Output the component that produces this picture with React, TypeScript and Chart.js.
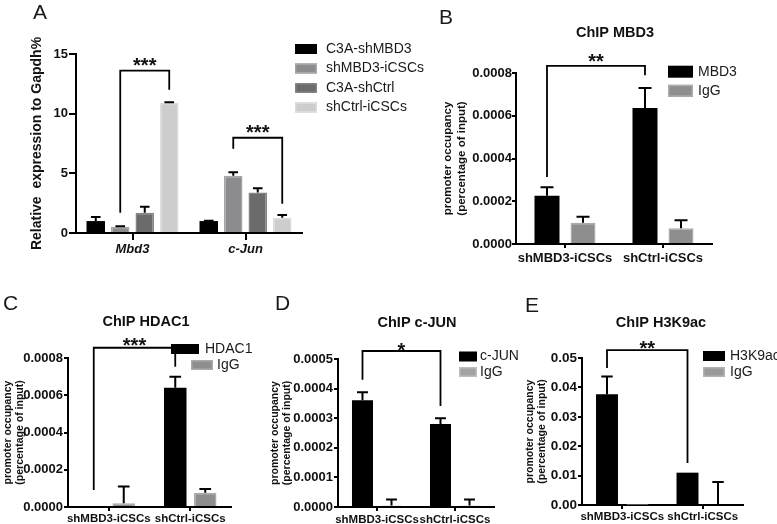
import { useEffect, useRef } from 'react';
import { Chart, registerables } from 'chart.js';

Chart.register(...registerables);

const FONT = '"Liberation Sans", Arial, Helvetica, sans-serif';
Chart.defaults.font.family = FONT;
Chart.defaults.color = '#111';

// ---------- Panel A data ----------
const aCategories = ['Mbd3', 'c-Jun'];
const aSeriesLabels = ['C3A-shMBD3', 'shMBD3-iCSCs', 'C3A-shCtrl', 'shCtrl-iCSCs'];
const aC3AshMBD3 = [1.0, 1.0];
const aC3AshMBD3Err = [0.34, 0.02];
const aShMBD3iCSCs = [0.53, 4.8];
const aShMBD3iCSCsErr = [0.04, 0.29];
const aC3AshCtrl = [1.7, 3.4];
const aC3AshCtrlErr = [0.5, 0.35];
const aShCtrliCSCs = [10.92, 1.28];
const aShCtrliCSCsErr = [0.03, 0.22];
const aYTicks = [0, 5, 10, 15];
const aBrackets = [
  { from: [0, 1], to: [0, 3], yFrom: 1.7, yTop: 13.6, yTo: 12.0, label: '***', labelY: 14.45 },
  { from: [1, 1], to: [1, 3], yFrom: 7.05, yTop: 7.98, yTo: 2.45, label: '***', labelY: 8.8 },
];

// ---------- ChIP panels ----------
const chipCategories = ['shMBD3-iCSCs', 'shCtrl-iCSCs'];

const bLabels = ['MBD3', 'IgG'];
const bMBD3 = [0.000226, 0.000636];
const bMBD3Err = [0.000039, 0.000094];
const bIgG = [0.0001, 0.0000735];
const bIgGErr = [0.000028, 0.000038];
const bYTicks = [0, 0.0002, 0.0004, 0.0006, 0.0008];
const bBrackets = [
  { from: [0, 0], to: [1, 0], yFrom: 0.000313, yTop: 0.000833, yTo: 0.00079, label: '**', labelY: 0.000875 },
];

const cLabels = ['HDAC1', 'IgG'];
const cHDAC1 = [0.000005, 0.00064];
const cHDAC1Err = [0, 0.00006];
const cIgG = [0.00002, 0.000077];
const cIgGErr = [0.00009, 0.00002];
const cYTicks = [0, 0.0002, 0.0004, 0.0006, 0.0008];
const cBrackets = [
  { from: [0, 0], to: [1, 0], yFrom: 0.000091, yTop: 0.000855, yTo: 0.000753, label: '***', labelY: 0.00089 },
];

const dLabels = ['c-JUN', 'IgG'];
const dCJUN = [0.000361, 0.00028];
const dCJUNErr = [0.000027, 0.00002];
const dIgG = [0.000005, 0.000005];
const dIgGErr = [0.00002, 0.00002];
const dYTicks = [0, 0.0001, 0.0002, 0.0003, 0.0004, 0.0005];
const dBrackets = [
  { from: [0, 0], to: [1, 0], yFrom: 0.00043, yTop: 0.000527, yTo: 0.000341, label: '*', labelY: 0.000545 },
];

const eLabels = ['H3K9ac', 'IgG'];
const eH3K9ac = [0.0377, 0.011];
const eH3K9acErr = [0.006, 0];
const eIgG = [0.0001, 0];
const eIgGErr = [0, 0.0078];
const eYTicks = [0, 0.01, 0.02, 0.03, 0.04, 0.05];
const eBrackets = [
  { from: [0, 0], to: [1, 0], yFrom: 0.0466, yTop: 0.0527, yTo: 0.0143, label: '**', labelY: 0.0548 },
];

const W = 777;
const H = 524;
const X_AXIS_H = 30;

// ---------- plugins ----------
const errorBarPlugin = {
  id: 'errorBars',
  afterDatasetsDraw(chart: any, _args: any, opts: any) {
    const ctx = chart.ctx;
    const yScale = chart.scales.y;
    ctx.save();
    ctx.strokeStyle = '#000';
    ctx.lineWidth = opts.lineWidth || 2;
    chart.data.datasets.forEach((ds: any, di: number) => {
      const meta = chart.getDatasetMeta(di);
      const errs = ds.errors || [];
      meta.data.forEach((bar: any, i: number) => {
        const e = errs[i];
        if (!e) return;
        const v = ds.data[i];
        const yTop = yScale.getPixelForValue(v + e);
        const yBase = yScale.getPixelForValue(v);
        const half = bar.width * 0.26;
        ctx.beginPath();
        ctx.moveTo(bar.x, yBase);
        ctx.lineTo(bar.x, yTop);
        ctx.moveTo(bar.x - half, yTop);
        ctx.lineTo(bar.x + half, yTop);
        ctx.stroke();
      });
    });
    ctx.restore();
  },
};

const bracketPlugin = {
  id: 'sigBrackets',
  afterDatasetsDraw(chart: any, _args: any, opts: any) {
    const ctx = chart.ctx;
    const y = chart.scales.y;
    const size = opts.starSize || 20;
    (opts.items || []).forEach((b: any) => {
      const x1 = chart.getDatasetMeta(b.from[1]).data[b.from[0]].x;
      const x2 = chart.getDatasetMeta(b.to[1]).data[b.to[0]].x;
      const yT = y.getPixelForValue(b.yTop);
      ctx.save();
      ctx.strokeStyle = '#000';
      ctx.lineWidth = 1.8;
      ctx.beginPath();
      ctx.moveTo(x1, y.getPixelForValue(b.yFrom));
      ctx.lineTo(x1, yT);
      ctx.lineTo(x2, yT);
      ctx.lineTo(x2, y.getPixelForValue(b.yTo));
      ctx.stroke();
      ctx.fillStyle = '#111';
      ctx.font = `bold ${size}px ${FONT}`;
      ctx.textAlign = 'center';
      ctx.textBaseline = 'alphabetic';
      ctx.fillText(b.label, (x1 + x2) / 2, y.getPixelForValue(b.labelY) + 0.55 * size);
      ctx.restore();
    });
  },
};

const panelTextPlugin = {
  id: 'panelText',
  afterDraw(chart: any, _args: any, opts: any) {
    const ctx = chart.ctx;
    ctx.save();
    if (opts.letter) {
      ctx.fillStyle = '#1a1a1a';
      ctx.font = `21px ${FONT}`;
      ctx.textAlign = 'left';
      ctx.textBaseline = 'alphabetic';
      ctx.fillText(opts.letter.text, opts.letter.x, opts.letter.y);
    }
    if (opts.title) {
      ctx.fillStyle = '#111';
      ctx.font = `bold 14.5px ${FONT}`;
      ctx.textAlign = 'center';
      ctx.textBaseline = 'middle';
      ctx.fillText(opts.title.text, opts.title.x, opts.title.y);
    }
    if (opts.legend) {
      const lg = opts.legend;
      ctx.font = `${lg.fontSize}px ${FONT}`;
      ctx.textAlign = 'left';
      ctx.textBaseline = 'middle';
      chart.data.datasets.forEach((ds: any, i: number) => {
        const it = lg.items[i];
        if (!it) return;
        const bw = it.w ?? lg.boxW;
        const bx = it.x;
        const by = it.y - lg.boxH / 2;
        ctx.fillStyle = ds.backgroundColor;
        ctx.fillRect(bx, by, bw, lg.boxH);
        if (ds.borderWidth) {
          ctx.strokeStyle = ds.borderColor;
          ctx.lineWidth = 1.5;
          ctx.strokeRect(bx + 0.75, by + 0.75, bw - 1.5, lg.boxH - 1.5);
        }
        ctx.fillStyle = '#1a1a1a';
        const tx = it.tx ?? bx + bw + lg.gap;
        ctx.fillText(ds.label, tx, it.y);
      });
    }
    ctx.restore();
  },
};

// ---------- panel specs ----------
const panels: any[] = [
  {
    id: 'A',
    categories: aCategories,
    series: [
      { label: aSeriesLabels[0], data: aC3AshMBD3, errors: aC3AshMBD3Err, color: '#000000', border: '#000000', bw: 0 },
      { label: aSeriesLabels[1], data: aShMBD3iCSCs, errors: aShMBD3iCSCsErr, color: '#8c8c8f', border: '#a6a6a8', bw: 1.5 },
      { label: aSeriesLabels[2], data: aC3AshCtrl, errors: aC3AshCtrlErr, color: '#6b6b6b', border: '#858585', bw: 1.5 },
      { label: aSeriesLabels[3], data: aShCtrliCSCs, errors: aShCtrliCSCsErr, color: '#cdcdcd', border: '#dcdcdc', bw: 1.5 },
    ],
    yTicks: aYTicks,
    yDecimals: 0,
    yTitle: 'Relative  expression to Gapdh%',
    yTitleSize: 14,
    yTitleLH: 1.2,
    yTitleX: 37,
    plot: { left: 76, top: 54, right: 302, bottom: 233 },
    tickLength: 7,
    yTickPad: 1,
    xTickPad: 2,
    yTickSize: 13,
    xTickSize: 13,
    xItalic: true,
    barPct: 0.755,
    catPct: 0.867,
    brackets: aBrackets,
    letter: { text: 'A', x: 33, y: 19 },
    title: null,
    legend: {
      fontSize: 14, boxW: 22, boxH: 10, gap: 9,
      items: [{ x: 295, y: 49 }, { x: 295, y: 68.5 }, { x: 295, y: 88 }, { x: 295, y: 107.5 }],
    },
  },
  {
    id: 'B',
    categories: chipCategories,
    series: [
      { label: bLabels[0], data: bMBD3, errors: bMBD3Err, color: '#000000', border: '#000000', bw: 0 },
      { label: bLabels[1], data: bIgG, errors: bIgGErr, color: '#8e8e8e', border: '#ababab', bw: 1.5 },
    ],
    yTicks: bYTicks,
    yDecimals: 4,
    yTitle: ['promoter occupancy', '(percentage of input)'],
    yTitleSize: 11.5,
    yTitleLH: 1.2,
    yTitleX: 448,
    plot: { left: 516, top: 73, right: 712, bottom: 244 },
    tickLength: 4,
    yTickPad: 0,
    xTickPad: 3,
    yTickSize: 13,
    xTickSize: 13,
    barPct: 0.694,
    catPct: 0.735,
    brackets: bBrackets,
    letter: { text: 'B', x: 439, y: 24 },
    title: { text: 'ChIP MBD3', x: 615, y: 33 },
    legend: {
      fontSize: 14, boxW: 25, boxH: 12, gap: 5,
      items: [{ x: 668, y: 71.7 }, { x: 668, y: 90.8 }],
    },
  },
  {
    id: 'C',
    categories: chipCategories,
    series: [
      { label: cLabels[0], data: cHDAC1, errors: cHDAC1Err, color: '#000000', border: '#000000', bw: 0 },
      { label: cLabels[1], data: cIgG, errors: cIgGErr, color: '#8e8e8e', border: '#ababab', bw: 1.5 },
    ],
    yTicks: cYTicks,
    yDecimals: 4,
    yTitle: ['promoter occupancy', '(percentage of input)'],
    yTitleSize: 10.5,
    yTitleLH: 1.15,
    yTitleX: 8,
    plot: { left: 68, top: 358, right: 231, bottom: 507 },
    tickLength: 4,
    yTickPad: 1,
    xTickPad: 1,
    yTickSize: 13,
    xTickSize: 11.5,
    barPct: 0.75,
    catPct: 0.736,
    brackets: cBrackets,
    letter: { text: 'C', x: 3, y: 310 },
    title: { text: 'ChIP HDAC1', x: 146, y: 322 },
    legend: {
      fontSize: 14, boxW: 22, boxH: 10, gap: 5,
      items: [{ x: 171, y: 349, w: 28, tx: 205 }, { x: 191, y: 365, w: 22, tx: 217 }],
    },
  },
  {
    id: 'D',
    categories: chipCategories,
    series: [
      { label: dLabels[0], data: dCJUN, errors: dCJUNErr, color: '#000000', border: '#000000', bw: 0 },
      { label: dLabels[1], data: dIgG, errors: dIgGErr, color: '#a3a3a3', border: '#bdbdbd', bw: 1.5 },
    ],
    yTicks: dYTicks,
    yDecimals: 4,
    yTitle: ['promoter occupancy', '(percentage of input)'],
    yTitleSize: 10.5,
    yTitleLH: 1.15,
    yTitleX: 275,
    plot: { left: 338, top: 359, right: 494, bottom: 507 },
    tickLength: 4,
    yTickPad: 1,
    xTickPad: 2,
    yTickSize: 13,
    xTickSize: 11.5,
    barPct: 0.724,
    catPct: 0.744,
    brackets: dBrackets,
    letter: { text: 'D', x: 275, y: 310 },
    title: { text: 'ChIP c-JUN', x: 417, y: 323 },
    legend: {
      fontSize: 14, boxW: 18, boxH: 10, gap: 3,
      items: [{ x: 459, y: 356.5 }, { x: 459, y: 372 }],
    },
  },
  {
    id: 'E',
    categories: chipCategories,
    series: [
      { label: eLabels[0], data: eH3K9ac, errors: eH3K9acErr, color: '#000000', border: '#000000', bw: 0 },
      { label: eLabels[1], data: eIgG, errors: eIgGErr, color: '#9a9a9a', border: '#b3b3b3', bw: 1.5 },
    ],
    yTicks: eYTicks,
    yDecimals: 2,
    yTitle: ['promoter occupancy', '(percentage of input)'],
    yTitleSize: 10.5,
    yTitleLH: 1.15,
    yTitleX: 530,
    plot: { left: 582, top: 358, right: 743, bottom: 505 },
    tickLength: 4,
    yTickPad: 1,
    xTickPad: 1,
    yTickSize: 13.5,
    xTickSize: 11.5,
    barPct: 0.72,
    catPct: 0.758,
    brackets: eBrackets,
    letter: { text: 'E', x: 525, y: 312 },
    title: { text: 'ChIP H3K9ac', x: 661, y: 323 },
    legend: {
      fontSize: 14, boxW: 22, boxH: 10, gap: 5,
      items: [{ x: 703, y: 356 }, { x: 703, y: 372 }],
    },
  },
];

function buildChart(canvas: HTMLCanvasElement, p: any) {
  const padLeft = p.yTitleX - (p.yTitleSize * p.yTitleLH) / 2;
  const yWidth = p.plot.left - padLeft;
  const ticks = p.yTicks;
  const axisLine = { display: true, color: '#000', width: 2 };
  const gridCfg = {
    display: true,
    drawOnChartArea: false,
    drawTicks: true,
    tickLength: p.tickLength,
    color: '#000',
    lineWidth: 2,
    offset: false,
  };
  return new Chart(canvas, {
    type: 'bar',
    data: {
      labels: p.categories,
      datasets: p.series.map((s: any) => ({
        label: s.label,
        data: s.data,
        errors: s.errors,
        backgroundColor: s.color,
        borderColor: s.border,
        borderWidth: s.bw,
        barPercentage: p.barPct,
        categoryPercentage: p.catPct,
      })),
    } as any,
    options: {
      responsive: false,
      animation: false,
      layout: {
        autoPadding: false,
        padding: {
          left: padLeft,
          top: p.plot.top,
          right: W - p.plot.right,
          bottom: H - p.plot.bottom - X_AXIS_H,
        },
      },
      scales: {
        x: {
          type: 'category',
          offset: true,
          grid: gridCfg,
          border: axisLine,
          ticks: {
            autoSkip: false,
            maxRotation: 0,
            minRotation: 0,
            padding: p.xTickPad,
            color: '#111',
            font: { size: p.xTickSize, weight: 'bold', style: p.xItalic ? 'italic' : 'normal' },
          },
          afterFit: (s: any) => {
            s.height = X_AXIS_H;
            s.paddingLeft = 0;
            s.paddingRight = 0;
          },
        },
        y: {
          type: 'linear',
          min: ticks[0],
          max: ticks[ticks.length - 1],
          grid: gridCfg,
          border: axisLine,
          ticks: {
            stepSize: ticks[1] - ticks[0],
            padding: p.yTickPad,
            color: '#111',
            font: { size: p.yTickSize, weight: 'bold' },
            callback: (v: any) => Number(v).toFixed(p.yDecimals),
          },
          title: {
            display: true,
            text: p.yTitle,
            color: '#111',
            padding: 0,
            font: { size: p.yTitleSize, weight: 'bold', lineHeight: p.yTitleLH },
          },
          afterFit: (s: any) => {
            s.width = yWidth;
            s.paddingTop = 0;
            s.paddingBottom = 0;
          },
        },
      },
      plugins: {
        legend: { display: false },
        tooltip: { enabled: false },
        errorBars: { lineWidth: 2 },
        sigBrackets: { items: p.brackets, starSize: 20 },
        panelText: { letter: p.letter, title: p.title, legend: p.legend },
      } as any,
    } as any,
    plugins: [errorBarPlugin, bracketPlugin, panelTextPlugin],
  });
}

function Panel({ spec }: { spec: any }) {
  const ref = useRef<HTMLCanvasElement>(null);
  useEffect(() => {
    const chart = buildChart(ref.current as HTMLCanvasElement, spec);
    return () => chart.destroy();
  }, [spec]);
  return (
    <canvas
      ref={ref}
      width={W}
      height={H}
      style={{ position: 'absolute', left: 0, top: 0, width: W, height: H }}
    />
  );
}

export default function App() {
  return (
    <div style={{ position: 'absolute', left: 0, top: 0, width: W, height: H, background: '#fff', overflow: 'hidden' }}>
      {panels.map((p) => (
        <Panel key={p.id} spec={p} />
      ))}
    </div>
  );
}
